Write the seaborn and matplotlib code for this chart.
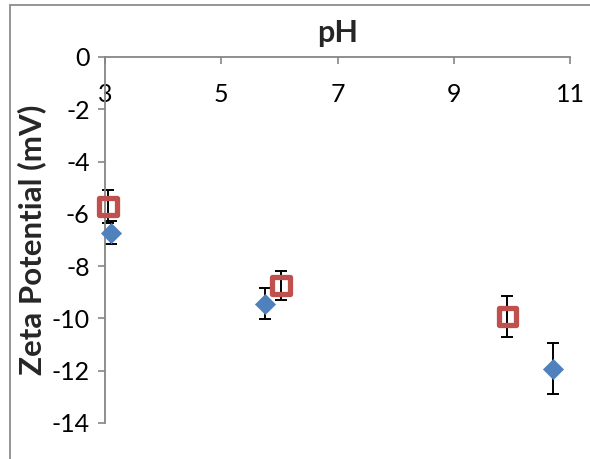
import matplotlib
matplotlib.use("Agg")
import matplotlib.pyplot as plt
import seaborn as sns
from matplotlib.patches import Rectangle

# Data
ph_diamond = [3.1, 5.75, 10.71]
zeta_diamond = [-6.73, -9.43, -11.92]
err_diamond = [0.44, 0.61, 0.98]

ph_square = [3.05, 6.03, 9.92]
zeta_square = [-5.72, -8.74, -9.93]
err_square = [0.63, 0.55, 0.79]

x_ticks = [3, 5, 7, 9, 11]
y_ticks = [0, -2, -4, -6, -8, -10, -12, -14]

sns.set_style("white")
plt.rcParams["font.family"] = ["Lato", "DejaVu Sans"]

W, H = 590, 459
fig = plt.figure(figsize=(W / 100, H / 100), dpi=100)
ax = fig.add_axes([105 / W, 1 - 423 / H, 465 / W, 366 / H])

gray = "#868686"
blue = "#4F81BD"
red = "#C0504D"

# error bars (behind markers)
ax.errorbar(ph_diamond, zeta_diamond, yerr=err_diamond, fmt="none", ecolor="black",
            elinewidth=1.4, capsize=4.5, capthick=1.4, zorder=2, clip_on=False)
ax.errorbar(ph_square, zeta_square, yerr=err_square, fmt="none", ecolor="black",
            elinewidth=1.4, capsize=4.5, capthick=1.4, zorder=2, clip_on=False)

sns.scatterplot(x=ph_diamond, y=zeta_diamond, marker="D", s=105, color=blue,
                edgecolor=blue, linewidth=0.5, ax=ax, zorder=3, clip_on=False)
sns.scatterplot(x=ph_square, y=zeta_square, marker="s", s=155, color=red,
                facecolors="none", edgecolor=red, linewidth=3.8, ax=ax, zorder=3,
                clip_on=False)

ax.set_xlim(3, 11)
ax.set_ylim(-14, 0)
ax.set_xticks(x_ticks)
ax.set_xticklabels([str(v) for v in x_ticks])
ax.set_yticks(y_ticks)
ax.set_yticklabels([str(v) for v in y_ticks])

for s in ["right", "bottom"]:
    ax.spines[s].set_visible(False)
for s in ["left", "top"]:
    ax.spines[s].set_color(gray)
    ax.spines[s].set_linewidth(1.3)

ax.tick_params(axis="x", top=True, bottom=False, labeltop=True, labelbottom=False,
               direction="in", length=5, width=1.2, color=gray, pad=-35.5,
               labelsize=18, labelcolor="black")
ax.tick_params(axis="y", left=True, direction="out", length=5, width=1.2, color=gray,
               pad=6, labelsize=18, labelcolor="black")

ax.xaxis.set_label_position("top")
ax.set_xlabel("pH", fontsize=22, fontweight="bold", labelpad=11)
ax.set_ylabel("Zeta Potential (mV)", fontsize=22.5, fontweight="bold", labelpad=4)

# outer chart border
border = Rectangle((10 / W, -0.2), 1.5, 1 - 5 / H + 0.2, transform=fig.transFigure,
                   fill=False, edgecolor="#8C8C8C", linewidth=1.3, clip_on=False)
fig.add_artist(border)

fig.savefig("out.png", dpi=100)
